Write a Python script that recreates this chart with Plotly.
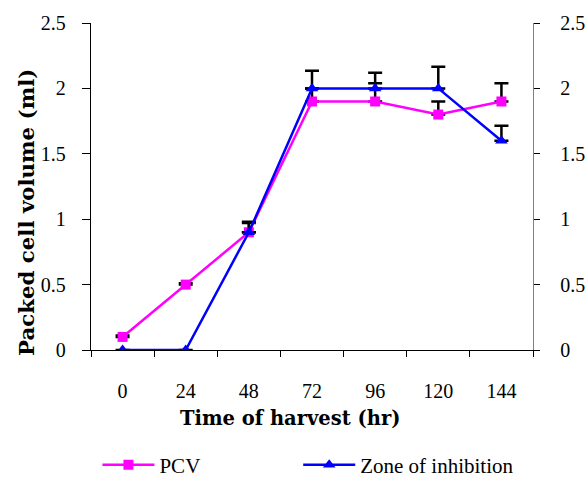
import plotly.graph_objects as go

hours = ["0", "24", "48", "72", "96", "120", "144"]
pcv = [0.1, 0.5, 0.9, 1.9, 1.9, 1.8, 1.9]
pcv_err = [0.01, 0.01, 0.07, 0.1, 0.14, 0.1, 0.14]
zone = [0, 0, 0.9, 2.0, 2.0, 2.0, 1.6]
zone_err = [0, 0, 0.08, 0.135, 0.12, 0.165, 0.115]
y_ticks = [0, 0.5, 1, 1.5, 2, 2.5]
y_tick_text = ["0", "0.5", "1", "1.5", "2", "2.5"]

SERIF = "Liberation Serif, Times New Roman, serif"
TITLE_FONT = "DejaVu Serif, serif"

fig = go.Figure()
fig.add_trace(go.Scatter(
    x=hours, y=pcv, name="PCV", mode="lines+markers", legend="legend",
    line=dict(color="#FF00FF", width=2.5),
    marker=dict(symbol="square", size=10, color="#FF00FF"),
    error_y=dict(type="data", array=pcv_err, symmetric=False, arrayminus=[0]*7,
                 color="black", thickness=2.5, width=7),
))
fig.add_trace(go.Scatter(
    x=hours, y=zone, name="Zone of inhibition", mode="lines+markers", legend="legend2",
    line=dict(color="#0000FF", width=2.5),
    marker=dict(symbol="triangle-up", size=11, color="#0000FF"),
    error_y=dict(type="data", array=zone_err, symmetric=False, arrayminus=[0]*7,
                 color="black", thickness=2.5, width=7),
))
# invisible trace to bring up the right-hand axis
fig.add_trace(go.Scatter(x=hours, y=pcv, yaxis="y2", mode="lines",
                         line=dict(width=0), opacity=0, showlegend=False,
                         hoverinfo="skip"))

legend_common = dict(orientation="h", y=0.025, xref="container", yref="container",
                     xanchor="left", yanchor="middle", font=dict(size=21),
                     itemwidth=52, bgcolor="rgba(0,0,0,0)")

fig.update_layout(
    width=587, height=477,
    margin=dict(l=91, r=54, t=23, b=127, autoexpand=False),
    paper_bgcolor="white", plot_bgcolor="white",
    font=dict(family=SERIF, size=20, color="black"),
    showlegend=True,
    legend=dict(x=0.166, **legend_common),
    legend2=dict(x=0.508, **legend_common),
    xaxis=dict(
        type="category", showline=True, linecolor="black", linewidth=1.3,
        ticks="outside", ticklen=6, tickcolor="black", tickson="boundaries",
        showgrid=False, zeroline=False, ticklabelstandoff=23, automargin=False,
        range=[-0.5, 6.5],
    ),
    yaxis=dict(
        range=[0, 2.5], tickvals=y_ticks, ticktext=y_tick_text,
        showline=True, linecolor="black", linewidth=1.3,
        ticks="outside", ticklen=8, tickcolor="black",
        showgrid=False, zeroline=False, ticklabelstandoff=12, automargin=False,
    ),
    yaxis2=dict(
        range=[0, 2.5], tickvals=y_ticks, ticktext=y_tick_text,
        overlaying="y", side="right", automargin=False,
        showline=True, linecolor="#808080", linewidth=1.3,
        ticks="outside", ticklen=6, tickcolor="black",
        showgrid=False, zeroline=False, ticklabelstandoff=16,
    ),
    annotations=[
        dict(text="<b>Time of harvest (hr)</b>", xref="paper", yref="paper",
             x=(290 - 91) / 442, y=-(418 - 350) / 327, xanchor="center", yanchor="middle",
             showarrow=False, font=dict(family=TITLE_FONT, size=19.5, color="black")),
        dict(text="<b>Packed cell volume (ml)</b>", xref="paper", yref="paper",
             x=-(91 - 26) / 442, y=(350 - 213) / 327, xanchor="center", yanchor="middle",
             textangle=-90, showarrow=False,
             font=dict(family=TITLE_FONT, size=21.3, color="black")),
    ],
)

fig.write_html("out.html", config={"displayModeBar": False},
               post_script="document.body.style.margin='0px';document.body.style.overflow='hidden';")
